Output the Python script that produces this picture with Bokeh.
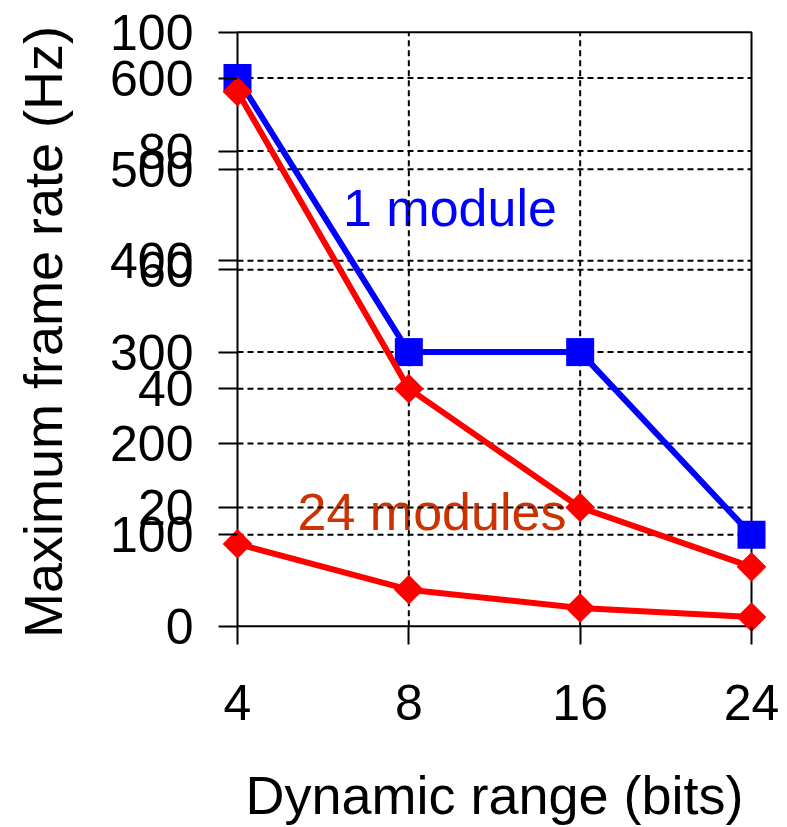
import math
from bokeh.plotting import figure
from bokeh.models import Range1d, FixedTicker, ColumnDataSource, BoxAnnotation
from bokeh.core.properties import value
from bokeh.embed import file_html
from bokeh.resources import INLINE

# ---- data ----
bits = ["4", "8", "16", "24"]                 # dynamic range (bits), categories
one_module_hz = [600, 300, 300, 100]          # 1 module, left scale 0-650
modules24_hz = [90, 40, 20, 10]               # 24 modules
hz_ticks = [0, 100, 200, 300, 400, 500, 600]  # first scale ticks
scale2_ticks = [20, 40, 60, 80, 100]          # second scale ticks (0-100)
HZ_MAX = 650
SCALE2_MAX = 100

FONT = "Liberation Sans"

# small padding so that edge markers are not clipped by the frame
X_PAD = 0.0875
Y_LO, Y_HI = -8, 652

xs = list(range(len(bits)))
conv = HZ_MAX / SCALE2_MAX

p = figure(width=787, height=827,
           x_range=Range1d(-X_PAD, len(bits) - 1 + X_PAD),
           y_range=Range1d(Y_LO, Y_HI),
           output_backend="svg", toolbar_location=None,
           min_border_left=222, min_border_right=21,
           min_border_top=30, min_border_bottom=194)
p.extra_y_ranges = {"s2": Range1d(Y_LO / conv, Y_HI / conv)}
p.background_fill_color = "white"
p.border_fill_color = "white"
p.outline_line_color = None

tick_pos = list(hz_ticks) + [v * conv for v in scale2_ticks]
overrides = {}
for v in hz_ticks:
    overrides[v] = str(v)
for v in scale2_ticks:
    overrides[v * conv] = str(v)

ya = p.yaxis[0]
ya.ticker = FixedTicker(ticks=tick_pos)
ya.major_label_overrides = overrides
ya.axis_label = "Maximum frame rate (Hz)"

xa = p.xaxis[0]
xa.ticker = FixedTicker(ticks=xs)
xa.major_label_overrides = {i: b for i, b in zip(xs, bits)}
xa.axis_label = "Dynamic range (bits)"

for ax in (xa, ya):
    ax.axis_line_color = None
    ax.major_tick_line_color = "black"
    ax.major_tick_line_width = 2
    ax.minor_tick_line_color = None
    ax.major_label_text_font = FONT
    ax.major_label_text_font_size = "50px"
    ax.major_label_text_color = "black"
    ax.axis_label_text_font = FONT
    ax.axis_label_text_font_size = "54px"
    ax.axis_label_text_font_style = "normal"
    ax.axis_label_text_color = "black"

ya.major_tick_in = 15
ya.major_tick_out = 4
ya.major_label_standoff = 25
ya.axis_label_standoff = 34
xa.major_tick_in = 7
xa.major_tick_out = 11
xa.major_label_standoff = 40
xa.axis_label_standoff = 42

p.xgrid.grid_line_color = None
p.ygrid.grid_line_color = None

# text labels (under the grid, as in the reference)
p.text(x=[1.24], y=[458], text=["1 module"], text_font=value(FONT),
       text_font_size="52px", text_color="#0000FF", text_align="center",
       text_baseline="alphabetic", level="image")
p.text(x=[1.135], y=[125], text=["24 modules"], text_font=value(FONT),
       text_font_size="52px", text_color="#CC3300", text_align="center",
       text_baseline="alphabetic", level="image")

# dashed grid limited to the plotting box
hgrid = [t for t in tick_pos if 0 < t < HZ_MAX]
p.segment(x0=[xs[0]] * len(hgrid), x1=[xs[-1]] * len(hgrid), y0=hgrid, y1=hgrid,
          line_color="black", line_width=2, line_dash="6 4", level="underlay")
vgrid = xs[1:-1]
p.segment(x0=vgrid, x1=vgrid, y0=[0] * len(vgrid), y1=[HZ_MAX] * len(vgrid),
          line_color="black", line_width=2, line_dash="6 4", level="underlay")

# plot box (axis lines + frame)
p.add_layout(BoxAnnotation(left=xs[0], right=xs[-1], bottom=0, top=HZ_MAX,
                           fill_color=None, fill_alpha=0, line_color="black",
                           line_alpha=1, line_width=2, level="underlay"))

src1 = ColumnDataSource(dict(x=xs, y=one_module_hz))
src24 = ColumnDataSource(dict(x=xs, y=modules24_hz))

# 1 module
p.line("x", "y", source=src1, line_color="#0000FF", line_width=6)
p.scatter("x", "y", source=src1, marker="square", size=28,
          fill_color="#0000FF", line_color=None)

# 24 modules, second scale
p.line("x", "y", source=src24, y_range_name="s2", line_color="#FF0000", line_width=6)
p.scatter("x", "y", source=src24, y_range_name="s2", marker="square",
          angle=math.pi / 4, size=21, fill_color="#FF0000", line_color=None)

# 24 modules, first scale
p.line("x", "y", source=src24, line_color="#FF0000", line_width=6)
p.scatter("x", "y", source=src24, marker="square", angle=math.pi / 4,
          size=21, fill_color="#FF0000", line_color=None)

open("out.html", "w").write(file_html(p, INLINE))
